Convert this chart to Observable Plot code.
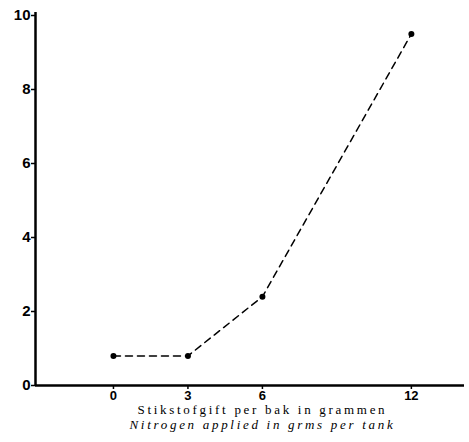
<!DOCTYPE html>
<html>
<head>
<meta charset="utf-8">
<script src="https://cdn.jsdelivr.net/npm/d3@7"></script>
<script src="https://cdn.jsdelivr.net/npm/@observablehq/plot@0.6"></script>
<style>
  html, body { margin: 0; padding: 0; background: #fff; }
</style>
</head>
<body>
<div id="chart"></div>
<script>
const nitrogen = [0, 3, 6, 12];
const values = [0.8, 0.8, 2.4, 9.5];
const xTicks = [0, 3, 6, 12];
const yTicks = [0, 2, 4, 6, 8, 10];
const caption1 = "Stikstofgift per bak in grammen";
const caption2 = "Nitrogen applied in grms per tank";

const data = nitrogen.map((x, i) => ({x, y: values[i]}));

const chart = Plot.plot({
  width: 469,
  height: 442,
  marginLeft: 35,
  marginRight: 5,
  marginTop: 15,
  marginBottom: 57,
  style: {fontFamily: "Liberation Sans, Arial, sans-serif", fontSize: "14px", color: "#000", background: "#fff"},
  x: {domain: [-3.14, 14.14], axis: null},
  y: {domain: [0, 10], axis: null},
  marks: [
    Plot.axisY({ticks: yTicks, tickSize: 4, tickPadding: 1, label: null, strokeWidth: 1.5}),
    Plot.axisX({ticks: xTicks, tickSize: 4, tickPadding: 1, label: null, strokeWidth: 1.5}),
    Plot.ruleX([-3.14], {y1: 0, y2: 10.08, stroke: "#000", strokeWidth: 2.5}),
    Plot.ruleY([0], {stroke: "#000", strokeWidth: 2.5}),
    Plot.line(data, {x: "x", y: "y", stroke: "#000", strokeWidth: 1.5, strokeDasharray: "7,5"}),
    Plot.dot(data, {x: "x", y: "y", r: 3, fill: "#000", stroke: "none"}),
    Plot.text([caption1], {x: () => 6, frameAnchor: "bottom", dy: 28, text: d => d, fontFamily: "Liberation Serif, Times New Roman, serif", fontSize: 13}),
    Plot.text([caption2], {x: () => 6, frameAnchor: "bottom", dy: 43, text: d => d, fontFamily: "Liberation Serif, Times New Roman, serif", fontSize: 13, fontStyle: "italic"})
  ]
});

d3.select(chart).selectAll("text").each(function() {
  const t = this.textContent;
  const el = d3.select(this);
  if (t === caption1 || t === caption2) {
    el.attr("letter-spacing", "2.7px").attr("font-weight", "normal").attr("fill", "#000");
  } else {
    el.attr("font-weight", "bold").attr("fill", "#000");
    const isY = this.getAttribute("text-anchor") === "end" ||
      (this.parentNode && this.parentNode.getAttribute("text-anchor") === "end");
    el.attr("font-size", isY ? "15px" : "13px");
  }
});
document.getElementById("chart").appendChild(chart);
</script>
</body>
</html>
